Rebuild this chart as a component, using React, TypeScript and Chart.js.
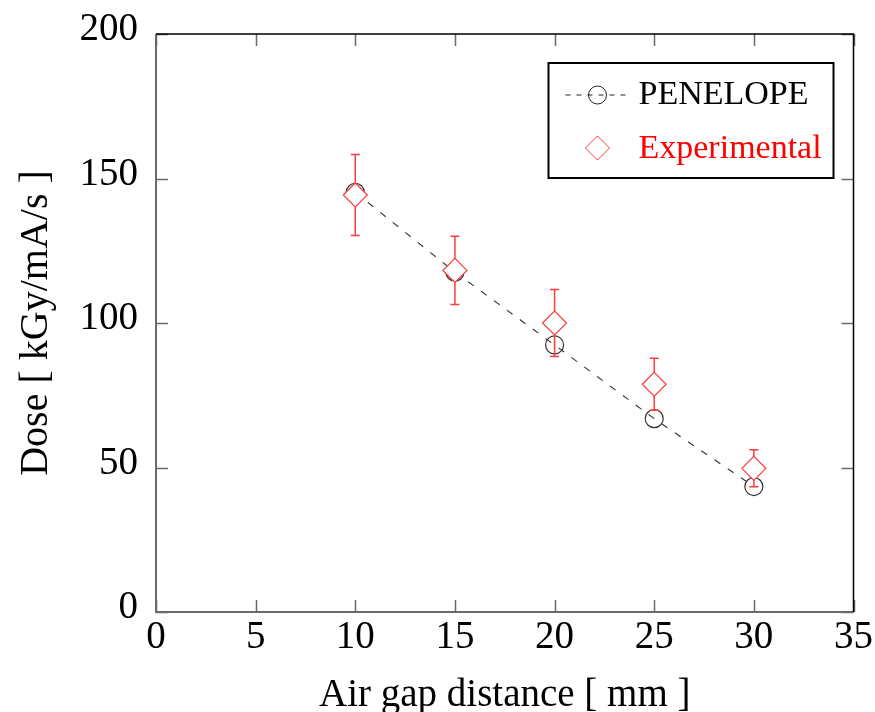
import React, { useEffect, useRef } from "react";
import { Chart, registerables } from "chart.js";

Chart.register(...registerables);

// ---- data ----
const airGapMm = [10, 15, 20, 25, 30];
const penelopeDose = [145.2, 117.6, 92.4, 66.9, 43.4];
const experimentalDose = [144.3, 118.2, 100.0, 78.8, 49.7];
const experimentalError = [14.0, 11.8, 11.6, 9.0, 6.4];
const xTickValues = [0, 5, 10, 15, 20, 25, 30, 35];
const yTickValues = [0, 50, 100, 150, 200];
const seriesLabels = ["PENELOPE", "Experimental"];
const xTitle = "Air gap distance [ mm ]";
const yTitle = "Dose [ kGy/mA/s ]";

const FONT = '"Liberation Serif", "Times New Roman", serif';
const RED = "#ff3b3b";

const errorBarPlugin = {
  id: "errorBars",
  beforeDatasetDraw(chart: any, args: any) {
    if (args.index !== 1) return;
    const { ctx, scales } = chart;
    const xs = scales.x;
    const ys = scales.y;
    ctx.save();
    ctx.strokeStyle = RED;
    ctx.lineWidth = 1.5;
    airGapMm.forEach((x, i) => {
      const px = xs.getPixelForValue(x);
      const top = ys.getPixelForValue(experimentalDose[i] + experimentalError[i]);
      const bot = ys.getPixelForValue(experimentalDose[i] - experimentalError[i]);
      ctx.beginPath();
      ctx.moveTo(px, top);
      ctx.lineTo(px, bot);
      ctx.moveTo(px - 4.5, top);
      ctx.lineTo(px + 4.5, top);
      ctx.moveTo(px - 4.5, bot);
      ctx.lineTo(px + 4.5, bot);
      ctx.stroke();
    });
    ctx.restore();
  },
};

const framePlugin = {
  id: "frameTicks",
  afterDatasetsDraw(chart: any) {
    const { ctx, chartArea, scales } = chart;
    const { left, right, top, bottom } = chartArea;
    const xs = scales.x;
    const ys = scales.y;
    const len = 12;
    ctx.save();
    ctx.strokeStyle = "#6a6a6a";
    ctx.lineWidth = 1.5;
    ctx.beginPath();
    xTickValues.forEach((v) => {
      const px = Math.round(xs.getPixelForValue(v)) + 0.5;
      ctx.moveTo(px, bottom);
      ctx.lineTo(px, bottom - len);
      ctx.moveTo(px, top);
      ctx.lineTo(px, top + len);
    });
    yTickValues.forEach((v) => {
      const py = Math.round(ys.getPixelForValue(v)) + 0.5;
      ctx.moveTo(left, py);
      ctx.lineTo(left + len, py);
      ctx.moveTo(right, py);
      ctx.lineTo(right - len, py);
    });
    ctx.stroke();
    ctx.strokeStyle = "#6a6a6a";
    ctx.lineWidth = 2;
    ctx.beginPath();
    ctx.moveTo(left, top);
    ctx.lineTo(left, bottom);
    ctx.lineTo(right, bottom);
    ctx.stroke();
    ctx.strokeStyle = "#000";
    ctx.lineWidth = 1.5;
    ctx.beginPath();
    ctx.moveTo(left, top);
    ctx.lineTo(right, top);
    ctx.lineTo(right, bottom);
    ctx.stroke();
    ctx.restore();
  },
};

const legendPlugin = {
  id: "boxLegend",
  afterDraw(chart: any) {
    const { ctx, chartArea } = chart;
    const bx = chartArea.right - 305;
    const by = chartArea.top + 29;
    const bw = 285;
    const bh = 115;
    ctx.save();
    ctx.fillStyle = "#fff";
    ctx.fillRect(bx, by, bw, bh);
    ctx.strokeStyle = "#000";
    ctx.lineWidth = 2;
    ctx.strokeRect(bx, by, bw, bh);

    const mx = bx + 49;
    const r1 = by + 32;
    const r2 = by + 85;
    ctx.strokeStyle = "#222";
    ctx.lineWidth = 1;
    ctx.setLineDash([5, 6]);
    ctx.beginPath();
    ctx.moveTo(bx + 17, r1);
    ctx.lineTo(bx + 83, r1);
    ctx.stroke();
    ctx.setLineDash([]);
    ctx.beginPath();
    ctx.arc(mx, r1, 9, 0, Math.PI * 2);
    ctx.stroke();
    ctx.strokeStyle = RED;
    ctx.beginPath();
    ctx.moveTo(mx - 12, r2);
    ctx.lineTo(mx, r2 - 12);
    ctx.lineTo(mx + 12, r2);
    ctx.lineTo(mx, r2 + 12);
    ctx.closePath();
    ctx.stroke();

    ctx.font = `34px ${FONT}`;
    ctx.textBaseline = "middle";
    ctx.textAlign = "left";
    ctx.fillStyle = "#000";
    ctx.fillText(seriesLabels[0], bx + 90, r1);
    ctx.fillStyle = "#ff0000";
    ctx.fillText(seriesLabels[1], bx + 90, r2 + 1);
    ctx.restore();
  },
};

export default function App() {
  const canvasRef = useRef<HTMLCanvasElement | null>(null);

  useEffect(() => {
    if (!canvasRef.current) return;
    const chart = new Chart(canvasRef.current, {
      type: "line",
      data: {
        datasets: [
          {
            label: seriesLabels[0],
            data: airGapMm.map((x, i) => ({ x, y: penelopeDose[i] })),
            borderColor: "#333",
            borderWidth: 1.1,
            borderDash: [7, 9],
            pointStyle: "circle",
            pointRadius: 9,
            pointBorderWidth: 1.2,
            pointBorderColor: "#333",
            pointBackgroundColor: "rgba(0,0,0,0)",
            backgroundColor: "rgba(0,0,0,0)",
            fill: false,
            order: 2,
          },
          {
            label: seriesLabels[1],
            data: airGapMm.map((x, i) => ({ x, y: experimentalDose[i] })),
            showLine: false,
            borderColor: RED,
            pointStyle: "rectRot",
            pointRadius: 12,
            pointBorderWidth: 1.2,
            pointBorderColor: RED,
            pointBackgroundColor: "#fff",
            backgroundColor: "#fff",
            order: 1,
          },
        ],
      },
      options: {
        animation: false,
        responsive: true,
        maintainAspectRatio: false,
        layout: { padding: { top: 34, right: 20, left: 0, bottom: 0 } },
        plugins: {
          legend: { display: false },
          tooltip: { enabled: false },
        },
        scales: {
          x: {
            type: "linear",
            min: 0,
            max: 35,
            afterFit: (s: any) => {
              s.height = 100;
            },
            afterBuildTicks: (s: any) => {
              s.ticks = xTickValues.map((v) => ({ value: v }));
            },
            grid: { display: false, drawTicks: false },
            border: { display: false },
            ticks: {
              autoSkip: false,
              maxRotation: 0,
              padding: 2,
              color: "#000",
              font: { family: FONT, size: 39, lineHeight: 1.2 },
            },
            title: {
              display: true,
              text: xTitle,
              color: "#000",
              padding: { top: 0, bottom: 0 },
              font: { family: FONT, size: 39, lineHeight: 0.82 },
            },
          },
          y: {
            type: "linear",
            min: 0,
            max: 200,
            afterFit: (s: any) => {
              s.width = 156;
            },
            afterBuildTicks: (s: any) => {
              s.ticks = yTickValues.map((v) => ({ value: v }));
            },
            grid: { display: false, drawTicks: false },
            border: { display: false },
            ticks: {
              padding: 18,
              labelOffset: -4,
              color: "#000",
              font: { family: FONT, size: 39, lineHeight: 0.4 },
            },
            title: {
              display: true,
              text: yTitle,
              color: "#000",
              padding: { top: 16, bottom: 0 },
              font: { family: FONT, size: 40, lineHeight: 1 },
            },
          },
        },
      },
      plugins: [errorBarPlugin, framePlugin, legendPlugin],
    });
    return () => chart.destroy();
  }, []);

  return (
    <div
      style={{
        position: "fixed",
        left: 0,
        top: 0,
        width: 875,
        height: 712,
        background: "#fff",
      }}
    >
      <canvas ref={canvasRef} />
    </div>
  );
}
